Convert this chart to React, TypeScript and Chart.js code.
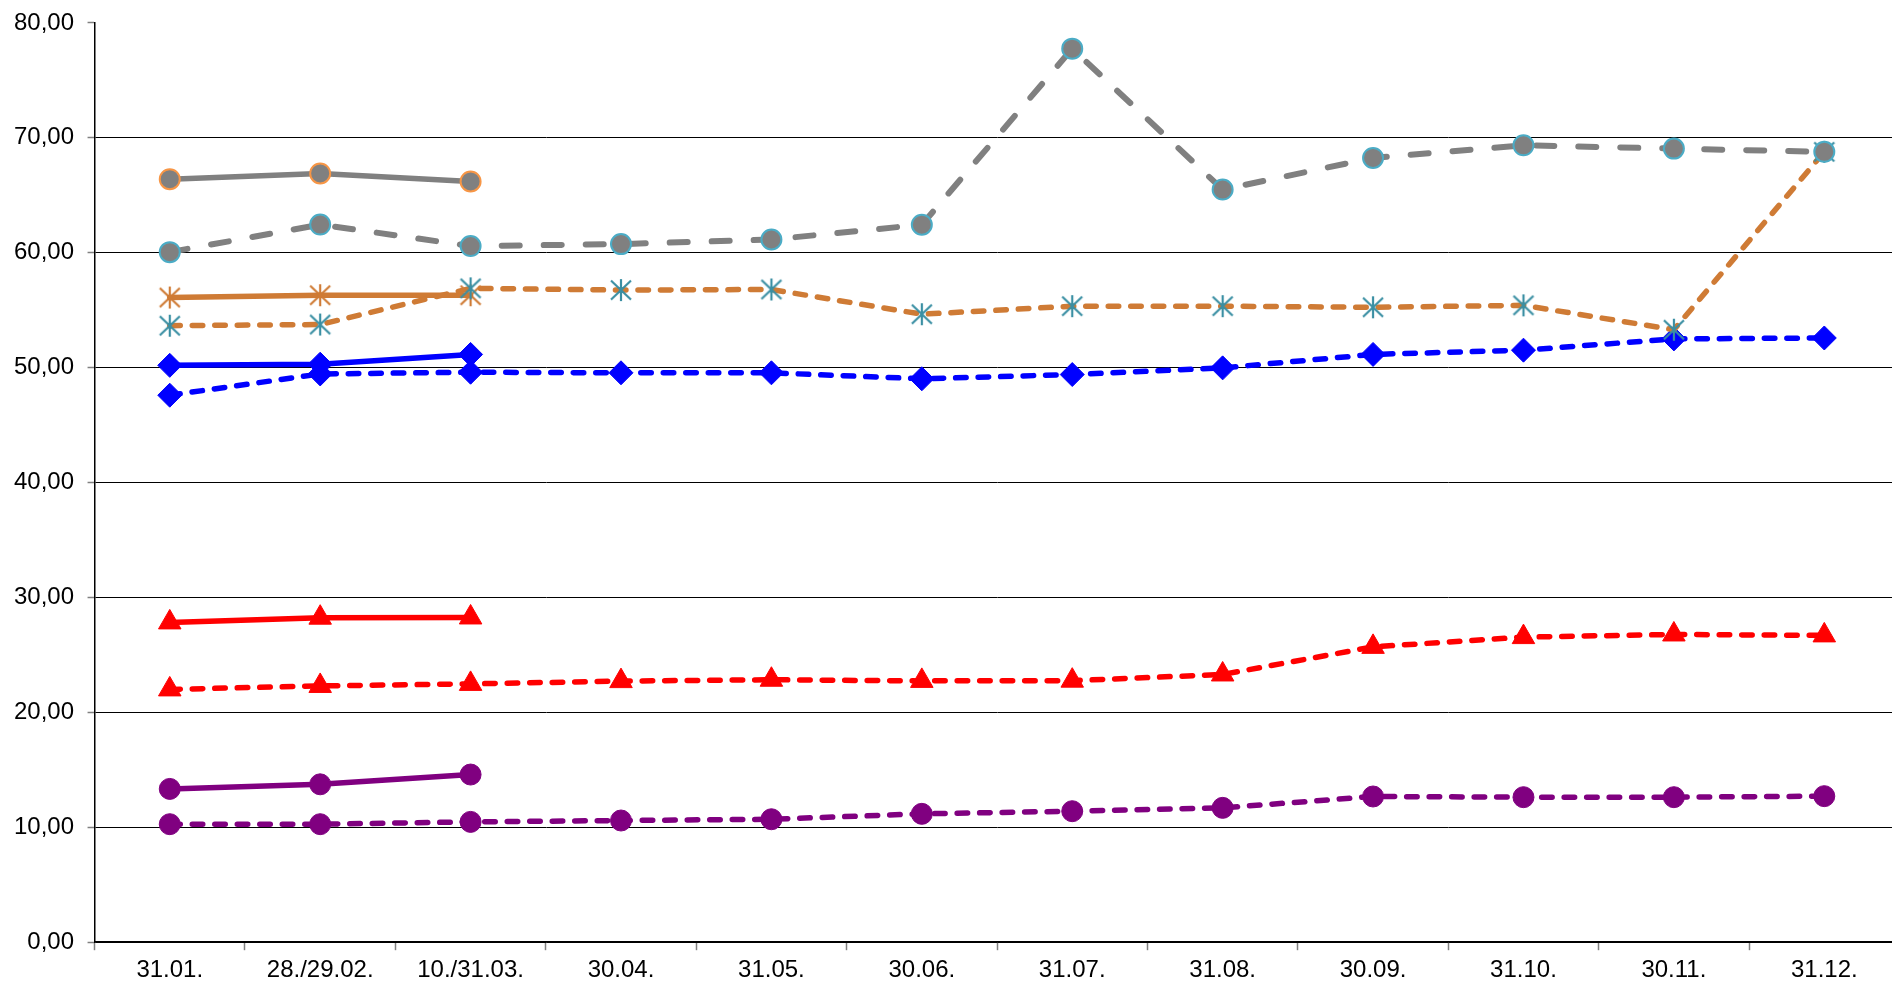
import React, { useEffect, useRef } from "react";
import { Chart, registerables } from "chart.js";

Chart.register(...registerables);

const categories = ["31.01.", "28./29.02.", "10./31.03.", "30.04.", "31.05.", "30.06.", "31.07.", "31.08.", "30.09.", "31.10.", "30.11.", "31.12."];

const grayPrev = [66.4, 66.9, 66.2, null, null, null, null, null, null, null, null, null];
const grayCur = [60.05, 62.45, 60.58, 60.75, 61.15, 62.44, 77.76, 65.5, 68.25, 69.35, 69.06, 68.78];
const orangePrev = [56.1, 56.3, 56.3, null, null, null, null, null, null, null, null, null];
const orangeCur = [53.65, 53.75, 56.9, 56.75, 56.8, 54.65, 55.35, 55.35, 55.25, 55.42, 53.3, 68.78];
const bluePrev = [50.2, 50.3, 51.15, null, null, null, null, null, null, null, null, null];
const blueCur = [47.6, 49.45, 49.6, 49.55, 49.55, 49.03, 49.4, 49.98, 51.15, 51.52, 52.5, 52.58];
const redPrev = [27.83, 28.24, 28.26, null, null, null, null, null, null, null, null, null];
const redCur = [22.0, 22.3, 22.48, 22.72, 22.84, 22.74, 22.76, 23.3, 25.7, 26.55, 26.78, 26.7];
const purplePrev = [13.34, 13.74, 14.59, null, null, null, null, null, null, null, null, null];
const purpleCur = [10.27, 10.27, 10.47, 10.59, 10.7, 11.17, 11.4, 11.69, 12.68, 12.62, 12.62, 12.71];

const yMin = 0;
const yMax = 80;
const yStep = 10;

const FONT = "'Liberation Sans', Arial, sans-serif";

function makeAsterisk(color: string): HTMLCanvasElement {
  const s = 24;
  const c = document.createElement("canvas");
  c.width = s;
  c.height = s;
  const ctx = c.getContext("2d")!;
  ctx.strokeStyle = color;
  ctx.lineWidth = 2.2;
  ctx.beginPath();
  ctx.moveTo(s / 2, 1);
  ctx.lineTo(s / 2, s - 1);
  ctx.moveTo(2, 2.5);
  ctx.lineTo(s - 2, s - 2.5);
  ctx.moveTo(2, s - 2.5);
  ctx.lineTo(s - 2, 2.5);
  ctx.stroke();
  return c;
}

export default function App() {
  const ref = useRef<HTMLCanvasElement | null>(null);

  useEffect(() => {
    if (!ref.current) return;
    const GRAY = "#808080";
    const ORANGE = "#CF7B35";
    const TEAL = "#3A8FA3";
    const CYAN = "#4BACC6";
    const LORANGE = "#F79646";
    const BLUE = "#0000FF";
    const RED = "#FF0000";
    const PURPLE = "#800080";
    const shortDash = [10.5, 12];

    const astOrange = makeAsterisk(ORANGE);
    const astTeal = makeAsterisk(TEAL);

    const base = {
      spanGaps: false,
      tension: 0,
      fill: false,
      borderCapStyle: "round" as const,
      borderJoinStyle: "round" as const,
    };

    const chart = new Chart(ref.current, {
      type: "line",
      data: {
        labels: categories,
        datasets: [
          {
            ...base,
            data: grayCur,
            borderColor: GRAY,
            borderWidth: 6,
            borderDash: [18, 24],
            pointStyle: "circle",
            pointRadius: 10,
            pointBorderWidth: 2,
            pointBackgroundColor: GRAY,
            pointBorderColor: CYAN,
          },
          {
            ...base,
            data: grayPrev,
            borderColor: GRAY,
            borderWidth: 5.5,
            pointStyle: "circle",
            pointRadius: 10,
            pointBorderWidth: 2,
            pointBackgroundColor: GRAY,
            pointBorderColor: LORANGE,
          },
          {
            ...base,
            data: orangeCur,
            borderColor: ORANGE,
            borderWidth: 5.5,
            borderDash: shortDash,
            pointStyle: astTeal,
            pointRadius: 12,
          },
          {
            ...base,
            data: orangePrev,
            borderColor: ORANGE,
            borderWidth: 5.5,
            pointStyle: astOrange,
            pointRadius: 12,
          },
          {
            ...base,
            data: blueCur,
            borderColor: BLUE,
            borderWidth: 5.5,
            borderDash: shortDash,
            pointStyle: "rectRot",
            pointRadius: 12,
            pointBorderWidth: 1,
            pointBackgroundColor: BLUE,
            pointBorderColor: BLUE,
          },
          {
            ...base,
            data: bluePrev,
            borderColor: BLUE,
            borderWidth: 5.5,
            pointStyle: "rectRot",
            pointRadius: 12,
            pointBorderWidth: 1,
            pointBackgroundColor: BLUE,
            pointBorderColor: BLUE,
          },
          {
            ...base,
            data: redCur,
            borderColor: RED,
            borderWidth: 5.5,
            borderDash: shortDash,
            pointStyle: "triangle",
            pointRadius: 13,
            pointBorderWidth: 1,
            pointBackgroundColor: RED,
            pointBorderColor: RED,
          },
          {
            ...base,
            data: redPrev,
            borderColor: RED,
            borderWidth: 5.5,
            pointStyle: "triangle",
            pointRadius: 13,
            pointBorderWidth: 1,
            pointBackgroundColor: RED,
            pointBorderColor: RED,
          },
          {
            ...base,
            data: purpleCur,
            borderColor: PURPLE,
            borderWidth: 5.5,
            borderDash: shortDash,
            pointStyle: "circle",
            pointRadius: 10.5,
            pointBorderWidth: 1,
            pointBackgroundColor: PURPLE,
            pointBorderColor: PURPLE,
          },
          {
            ...base,
            data: purplePrev,
            borderColor: PURPLE,
            borderWidth: 5.5,
            pointStyle: "circle",
            pointRadius: 10.5,
            pointBorderWidth: 1,
            pointBackgroundColor: PURPLE,
            pointBorderColor: PURPLE,
          },
        ],
      },
      options: {
        animation: false,
        responsive: false,
        devicePixelRatio: 1,
        layout: { padding: { left: 0.5, top: 16.8, right: 0, bottom: 0 } },
        plugins: {
          legend: { display: false },
          tooltip: { enabled: false },
          title: { display: false },
        },
        scales: {
          x: {
            type: "category",
            offset: true,
            grid: {
              offset: true,
              drawOnChartArea: false,
              drawTicks: true,
              tickLength: 8,
              tickColor: "#808080",
              tickWidth: 1.5,
            },
            border: { display: true, color: "#000000", width: 1.5 },
            ticks: {
              color: "#000000",
              padding: 6,
              maxRotation: 0,
              autoSkip: false,
              font: { family: FONT, size: 24 },
            },
          },
          y: {
            min: yMin,
            max: yMax,
            grid: {
              color: (ctx: any) => (ctx.tick && ctx.tick.value === yMax ? "rgba(0,0,0,0)" : "#000000"),
              lineWidth: 1,
              drawTicks: true,
              tickLength: 7,
              tickColor: "#808080",
              tickWidth: 1.5,
            },
            border: { display: true, color: "#000000", width: 1.5 },
            ticks: {
              stepSize: yStep,
              color: "#000000",
              padding: 13.5,
              font: { family: FONT, size: 24 },
              callback: (v: any) => Number(v).toFixed(2).replace(".", ","),
            },
          },
        },
      },
    });
    return () => chart.destroy();
  }, []);

  return (
    <div style={{ position: "fixed", left: 0, top: 0, width: 1892, height: 983, overflow: "hidden", background: "#fff" }}>
      <canvas ref={ref} width={1917} height={996} style={{ display: "block", width: 1917, height: 996, marginTop: -5 }} />
    </div>
  );
}
